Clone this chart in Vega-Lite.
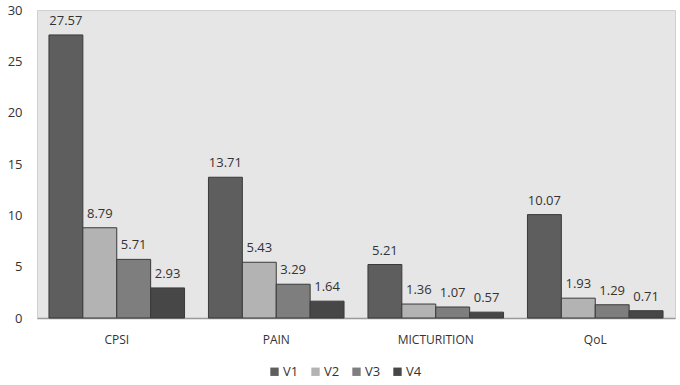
{
  "$schema": "https://vega.github.io/schema/vega-lite/v6.json",
  "width": 638,
  "height": 308,
  "autosize": "none",
  "padding": {"left": 37, "top": 10, "right": 5, "bottom": 67},
  "background": "white",
  "config": {
    "view": {"fill": "#e6e6e6", "stroke": "#d0d0d0"},
    "font": "Open Sans",
    "axis": {"labelFont": "Open Sans", "labelColor": "#333333", "labelFontSize": 12}
  },
  "data": {
    "values": [
      {"cat": "CPSI", "series": "V1", "value": 27.57, "label": "27.57"},
      {"cat": "CPSI", "series": "V2", "value": 8.79, "label": "8.79"},
      {"cat": "CPSI", "series": "V3", "value": 5.71, "label": "5.71"},
      {"cat": "CPSI", "series": "V4", "value": 2.93, "label": "2.93"},
      {"cat": "PAIN", "series": "V1", "value": 13.71, "label": "13.71"},
      {"cat": "PAIN", "series": "V2", "value": 5.43, "label": "5.43"},
      {"cat": "PAIN", "series": "V3", "value": 3.29, "label": "3.29"},
      {"cat": "PAIN", "series": "V4", "value": 1.64, "label": "1.64"},
      {"cat": "MICTURITION", "series": "V1", "value": 5.21, "label": "5.21"},
      {"cat": "MICTURITION", "series": "V2", "value": 1.36, "label": "1.36"},
      {"cat": "MICTURITION", "series": "V3", "value": 1.07, "label": "1.07"},
      {"cat": "MICTURITION", "series": "V4", "value": 0.57, "label": "0.57"},
      {"cat": "QoL", "series": "V1", "value": 10.07, "label": "10.07"},
      {"cat": "QoL", "series": "V2", "value": 1.93, "label": "1.93"},
      {"cat": "QoL", "series": "V3", "value": 1.29, "label": "1.29"},
      {"cat": "QoL", "series": "V4", "value": 0.71, "label": "0.71"}
    ]
  },
  "encoding": {
    "x": {
      "field": "cat", "type": "nominal", "sort": null,
      "scale": {"paddingInner": 0.15, "paddingOuter": 0.075},
      "axis": {"title": null, "labelAngle": 0, "ticks": false, "labelPadding": 16, "domainColor": "#999999", "domainWidth": 1.5}
    },
    "xOffset": {"field": "series", "type": "nominal", "sort": null},
    "y": {
      "field": "value", "type": "quantitative",
      "scale": {"domain": [0, 30]},
      "axis": {"title": null, "values": [0, 5, 10, 15, 20, 25, 30], "ticks": false, "grid": false, "domain": false, "labelPadding": 15, "labelFontSize": 13}
    }
  },
  "layer": [
    {
      "mark": {"type": "bar", "stroke": "#3a3a3a", "strokeWidth": 1},
      "encoding": {
        "color": {
          "field": "series", "type": "nominal",
          "scale": {"domain": ["V1", "V2", "V3", "V4"], "range": ["#5e5e5e", "#b3b3b3", "#7e7e7e", "#474747"]},
          "legend": {
            "title": null, "orient": "none", "direction": "horizontal",
            "legendX": 231, "legendY": 355,
            "symbolType": "square", "symbolSize": 70, "symbolStrokeWidth": 0,
            "labelFontSize": 13, "labelColor": "#333333", "labelFont": "Open Sans",
            "labelOffset": 2, "columnPadding": 10
          }
        }
      }
    },
    {
      "mark": {"type": "text", "baseline": "bottom", "dy": -7, "fontSize": 13, "color": "#333333", "font": "Open Sans"},
      "encoding": {"text": {"field": "label"}}
    }
  ]
}
